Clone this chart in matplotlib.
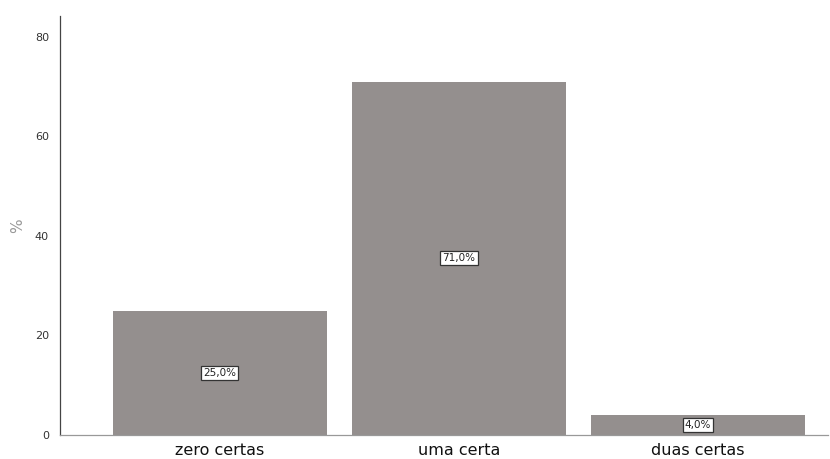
import matplotlib.pyplot as plt
import numpy as np

# %% Data
categories = ['zero certas', 'uma certa', 'duas certas']
percentages = [25.0, 71.0, 4.0]
y_ticks = [0, 20, 40, 60, 80]

# %% Plot
fig = plt.figure(figsize=(8.3, 4.59), dpi=100)
ax = fig.add_axes([60/830, 24/459, 768/830, 419/459])

x = np.arange(len(categories))
ax.bar(x, percentages, width=0.895, color='#948f8e', zorder=2)

for xi, v in zip(x, percentages):
    ax.text(xi, v/2, f'{v:.1f}%'.replace('.', ','), ha='center', va='center',
            fontsize=7.5, color='#222222',
            bbox=dict(boxstyle='square,pad=0.2', fc='white', ec='#333333', lw=0.9),
            zorder=3)

ax.set_xlim(-0.669, 2.544)
ax.set_ylim(0, 84.2)
ax.set_xticks(x)
ax.set_xticklabels(categories, fontsize=11.5, color='#111111')
ax.set_yticks(y_ticks)
ax.set_yticklabels([str(t) for t in y_ticks], fontsize=8, color='#333333')
ax.tick_params(axis='both', length=0)
ax.tick_params(axis='x', pad=6)
ax.tick_params(axis='y', pad=8)
ax.set_ylabel('%', fontsize=11, color='#999999')
ax.yaxis.set_label_coords(-0.045, 0.50)

for s in ['top', 'right']:
    ax.spines[s].set_visible(False)
ax.spines['left'].set_color('#444444')
ax.spines['left'].set_linewidth(0.9)
ax.spines['bottom'].set_color('#999999')
ax.spines['bottom'].set_linewidth(0.9)

fig.savefig('out.png', dpi=100)
